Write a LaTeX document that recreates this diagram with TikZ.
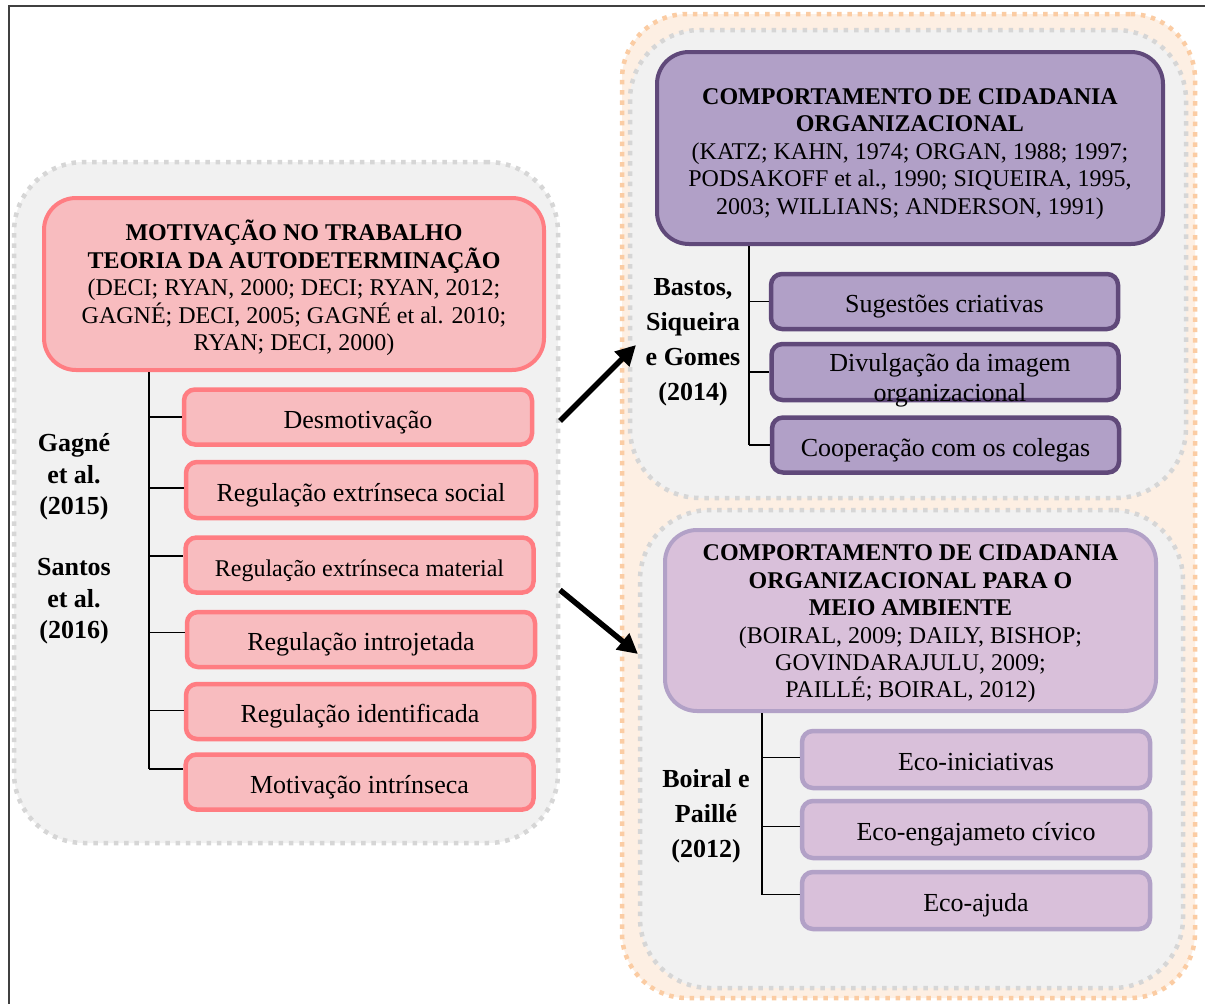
\documentclass[tikz,border=0pt]{standalone}
\usepackage{fontspec}
\setmainfont{Liberation Serif}
\usetikzlibrary{arrows.meta}

\definecolor{pinkfill}{RGB}{248,188,191}
\definecolor{pinkline}{RGB}{255,125,130}
\definecolor{violfill}{RGB}{177,160,199}
\definecolor{violline}{RGB}{96,73,122}
\definecolor{lilacfill}{RGB}{217,192,218}
\definecolor{lilacline}{RGB}{178,161,199}
\definecolor{panelfill}{RGB}{241,241,241}
\definecolor{paneldots}{RGB}{214,214,214}
\definecolor{peachfill}{RGB}{253,239,227}
\definecolor{peachdots}{RGB}{251,204,163}

\tikzset{
  panel/.style={draw=paneldots, fill=panelfill, line width=4.5pt,
    dash pattern=on 4.5pt off 5.8pt, rounded corners=70pt, inner sep=0pt},
  peachpanel/.style={panel, draw=peachdots, fill=peachfill, rounded corners=65pt},
  headbox/.style={line width=4pt, rounded corners=32pt, inner sep=0pt},
  headtext/.style={align=center, inner sep=0pt, font=\fontsize{24}{27.4}\selectfont},
  itembox/.style={line width=4.5pt, rounded corners=11pt, inner sep=0pt, align=center,
    font=\fontsize{26}{30}\selectfont, text height=24pt, text depth=2pt},
  pinkhead/.style={headbox, draw=pinkline, fill=pinkfill},
  pinkitem/.style={itembox, draw=pinkline, fill=pinkfill, minimum width=348pt, minimum height=55pt},
  violhead/.style={headbox, draw=violline, fill=violfill},
  violitem/.style={itembox, draw=violline, fill=violfill, minimum width=347pt, minimum height=55pt},
  lilachead/.style={headbox, draw=lilacline, fill=lilacfill},
  lilacitem/.style={itembox, draw=lilacline, fill=lilacfill, minimum width=348pt, minimum height=57pt},
  authlbl/.style={align=center, inner sep=0pt, font=\bfseries\fontsize{26}{31.5}\selectfont},
  tree/.style={line width=1.6pt, draw=black},
  bigarrow/.style={line width=5.5pt, -{Triangle[length=20pt,width=20pt]}}
}

\begin{document}
\begin{tikzpicture}[x=1pt,y=-1pt]
\useasboundingbox (0,0) rectangle (1205,1004);
\fill[white] (0,0) rectangle (1205,1004);
\draw[line width=1.2pt, draw=black!75] (9,1004) -- (9,6) -- (1205,6);

% background panels
\node[panel, minimum width=544pt, minimum height=681pt] (leftpanel) at (286,502.5) {};
\node[peachpanel, minimum width=573pt, minimum height=984pt] (rightpanel) at (908.5,506) {};
\node[panel, minimum width=556pt, minimum height=468pt] (ocbpanel) at (908,264) {};
\node[panel, minimum width=543pt, minimum height=478pt] (ocbepanel) at (911.5,749) {};

% left branch: self-determination theory
\node[pinkhead, minimum width=500pt, minimum height=172pt] (sdt) at (294,284) {};
\node[headtext] (sdttext) at (294,288)
  {\textbf{MOTIVAÇÃO NO TRABALHO}\\\textbf{TEORIA DA AUTODETERMINAÇÃO}\\(DECI; RYAN, 2000; DECI; RYAN, 2012;\\GAGNÉ; DECI, 2005; GAGNÉ et al. 2010;\\RYAN; DECI, 2000)};
\node[pinkitem] (desm) at (358,417) {Desmotivação};
\node[pinkitem, minimum width=350pt, minimum height=56pt] (regsoc) at (361,490) {Regulação extrínseca social};
\node[pinkitem, font=\fontsize{24}{28}\selectfont] (regmat) at (359.5,565) {Regulação extrínseca material};
\node[pinkitem] (regint) at (361,639.5) {Regulação introjetada};
\node[pinkitem] (regide) at (360,711.5) {Regulação identificada};
\node[pinkitem] (motint) at (359.5,782) {Motivação intrínseca};

\coordinate (treeL) at (149,0);
\draw[tree] (treeL |- sdt.south) -- ([yshift=13pt]treeL |- motint.west);
\foreach \b/\dy in {desm/0, regsoc/2, regmat/9, regint/7, regide/1, motint/13}
  \draw[tree] ([yshift=\dy pt]treeL |- \b.west) -- ([yshift=\dy pt]\b.west);

\node[authlbl] (gagne) at (74,477) {Gagné\\et al.\\(2015)};
\node[authlbl] (santos) at (74,601.5) {Santos\\et al.\\(2016)};

% upper right branch: organizational citizenship behaviour
\node[violhead, minimum width=506pt, minimum height=192pt] (ocb) at (910,148) {};
\node[headtext] (ocbtext) at (910,154)
  {\textbf{COMPORTAMENTO DE CIDADANIA}\\\textbf{ORGANIZACIONAL}\\(KATZ; KAHN, 1974; ORGAN, 1988; 1997;\\PODSAKOFF et al., 1990; SIQUEIRA, 1995,\\2003; WILLIANS; ANDERSON, 1991)};
\node[violitem] (suges) at (944.5,301.5) {Sugestões criativas};
\node[violitem, minimum height=56pt] (divul) at (945,372) {};
\node[align=center, inner sep=0pt, font=\fontsize{26}{30}\selectfont] (divultext) at (950,380)
  {Divulgação da imagem\\organizacional};
\node[violitem] (coope) at (945.5,445) {Cooperação com os colegas};

\coordinate (treeR) at (749,0);
\draw[tree] (treeR |- ocb.south) -- (treeR |- coope.west);
\foreach \b in {suges, divul, coope}
  \draw[tree] (treeR |- \b.west) -- (\b.west);

\node[authlbl, font=\bfseries\fontsize{26}{35}\selectfont] (bastos) at (693,342)
  {Bastos,\\Siqueira\\e Gomes\\(2014)};

% lower right branch: environmental citizenship behaviour
\node[lilachead, minimum width=491pt, minimum height=181pt] (ocbe) at (910.5,620.5) {};
\node[headtext] (ocbetext) at (910.5,624)
  {\textbf{COMPORTAMENTO DE CIDADANIA}\\\textbf{ORGANIZACIONAL PARA O}\\\textbf{MEIO AMBIENTE}\\(BOIRAL, 2009; DAILY, BISHOP;\\GOVINDARAJULU, 2009;\\PAILLÉ; BOIRAL, 2012)};
\node[lilacitem] (ecoini) at (976,759.5) {Eco-iniciativas};
\node[lilacitem] (ecoeng) at (976,829.5) {Eco-engajameto cívico};
\node[lilacitem] (ecoaju) at (976,900.5) {Eco-ajuda};

\coordinate (treeE) at (762,0);
\draw[tree] (treeE |- ocbe.south) -- ([yshift=6pt]treeE |- ecoaju.west);
\foreach \b/\dy in {ecoini/2, ecoeng/3, ecoaju/6}
  \draw[tree] ([yshift=\dy pt]treeE |- \b.west) -- ([yshift=\dy pt]\b.west);

\node[authlbl, font=\bfseries\fontsize{26}{35}\selectfont] (boiral) at (706,816)
  {Boiral e\\Paillé\\(2012)};

% arrows from the motivation panel to both citizenship panels
\coordinate (a1s) at (560,421);
\coordinate (a1e) at (636,345);
\coordinate (a2s) at (560,590);
\coordinate (a2e) at (638,654);
\draw[bigarrow] (a1s) -- (a1e);
\draw[bigarrow] (a2s) -- (a2e);
\end{tikzpicture}
\end{document}
